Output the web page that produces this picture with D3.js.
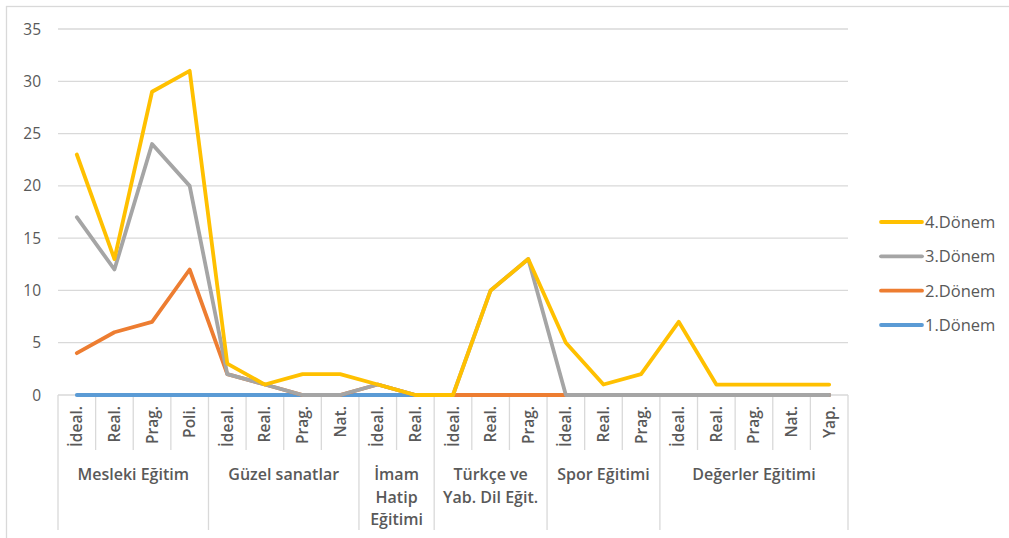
<!DOCTYPE html>
<html>
<head>
    <meta charset="utf-8">
    <title>Dönem line chart</title>
    <script src="https://d3js.org/d3.v7.min.js"></script>
    <style>
        body { margin: 0; background: #fff; }
        text { font-family: "Open Sans", Lato, sans-serif; fill: #595959; }
        .grid line { stroke: #d9d9d9; stroke-width: 1.3px; }
        .sub { font-size: 15.5px; font-weight: 600; }
        .group { font-size: 16px; font-weight: 600; }
        .ytick { font-size: 15.5px; }
        .legend text { font-size: 16.5px; }
    </style>
</head>
<body>
<div id="svg_container"></div>
<script>
    const width = 1009;
    const height = 538;

    // categories: group + sub label
    const groups = ["Mesleki Eğitim", "Güzel sanatlar", "İmam Hatip Eğitimi", "Türkçe ve Yab. Dil Eğit.", "Spor Eğitimi", "Değerler Eğitimi"];
    const groupLines = [["Mesleki Eğitim"], ["Güzel sanatlar"], ["İmam", "Hatip", "Eğitimi"], ["Türkçe ve", "Yab. Dil Eğit."], ["Spor Eğitimi"], ["Değerler Eğitimi"]];
    const subLabels = [
        ["İdeal.", "Real.", "Prag.", "Poli."],
        ["İdeal.", "Real.", "Prag.", "Nat."],
        ["İdeal.", "Real."],
        ["İdeal.", "Real.", "Prag."],
        ["İdeal.", "Real.", "Prag."],
        ["İdeal.", "Real.", "Prag.", "Nat.", "Yap."]
    ];

    const seriesNames = ["1.Dönem", "2.Dönem", "3.Dönem", "4.Dönem"];
    const seriesColors = ["#5b9bd5", "#ed7d31", "#a5a5a5", "#ffc000"];

    const donem1 = [0,0,0,0, 0,0,0,0, 0,0, 0,0,0, 0,0,0, 0,0,0,0,0];
    const donem2 = [4,6,7,12, 2,1,0,0, 1,0, 0,0,0, 0,0,0, 0,0,0,0,0];
    const donem3 = [17,12,24,20, 2,1,0,0, 1,0, 0,10,13, 0,0,0, 0,0,0,0,0];
    const donem4 = [23,13,29,31, 3,1,2,2, 1,0, 0,10,13, 5,1,2, 7,1,1,1,1];
    const seriesValues = [donem1, donem2, donem3, donem4];

    const yTicks = [0, 5, 10, 15, 20, 25, 30, 35];

    // flat category list
    const cats = [];
    subLabels.forEach((subs, gi) => subs.forEach((s, si) => cats.push({ id: gi + "_" + si, group: gi, label: s })));

    const plotLeft = 58, plotRight = 848, plotTop = 29, plotBottom = 395;

    const svg = d3.select("#svg_container")
        .append("svg")
        .attr("width", width)
        .attr("height", height);

    // chart border
    svg.append("rect")
        .attr("x", 6.5).attr("y", 6.5)
        .attr("width", width + 20).attr("height", height + 20)
        .attr("fill", "#fff")
        .attr("stroke", "#d9d9d9")
        .attr("stroke-width", 1.3);

    const x = d3.scaleBand()
        .domain(cats.map(d => d.id))
        .range([plotLeft, plotRight]);

    const y = d3.scaleLinear()
        .domain([0, 35])
        .range([plotBottom, plotTop]);

    // gridlines
    svg.append("g").attr("class", "grid")
        .selectAll("line")
        .data(yTicks.filter(t => t > 0))
        .enter().append("line")
        .attr("x1", plotLeft).attr("x2", plotRight)
        .attr("y1", d => y(d)).attr("y2", d => y(d));

    // y tick labels
    svg.append("g")
        .selectAll("text")
        .data(yTicks)
        .enter().append("text")
        .attr("class", "ytick")
        .attr("x", 41)
        .attr("y", d => y(d) + 5.5)
        .attr("text-anchor", "end")
        .text(d => d);

    // category axis: baseline, ticks, group separators
    const axisG = svg.append("g");
    axisG.append("line")
        .attr("x1", plotLeft).attr("x2", plotRight)
        .attr("y1", plotBottom).attr("y2", plotBottom)
        .attr("stroke", "#d9d9d9").attr("stroke-width", 1.3);

    const subBottom = 450, groupBottom = 530;
    // boundaries between categories
    const bounds = [];
    let idx = 0;
    subLabels.forEach((subs, gi) => {
        subs.forEach((s, si) => {
            bounds.push({ x: x(cats[idx].id), isGroup: si === 0 });
            idx++;
        });
    });
    bounds.push({ x: plotRight, isGroup: true });

    axisG.selectAll("line.tick")
        .data(bounds)
        .enter().append("line")
        .attr("class", "tick")
        .attr("x1", d => d.x).attr("x2", d => d.x)
        .attr("y1", plotBottom)
        .attr("y2", d => d.isGroup ? groupBottom : subBottom)
        .attr("stroke", "#d9d9d9").attr("stroke-width", 1.3);

    // sub labels, rotated
    axisG.selectAll("text.sub")
        .data(cats)
        .enter().append("text")
        .attr("class", "sub")
        .attr("transform", d => "translate(" + (x(d.id) + x.bandwidth() / 2 + 5.5) + "," + 406 + ") rotate(-90)")
        .attr("text-anchor", "end")
        .text(d => d.label);

    // group labels
    const groupCenters = groups.map((g, gi) => {
        const members = cats.filter(c => c.group === gi);
        const x0 = x(members[0].id);
        const x1 = x(members[members.length - 1].id) + x.bandwidth();
        return (x0 + x1) / 2;
    });

    groupLines.forEach((lines, gi) => {
        const t = axisG.append("text")
            .attr("class", "group")
            .attr("text-anchor", "middle")
            .attr("x", groupCenters[gi])
            .attr("y", 480);
        lines.forEach((ln, li) => {
            t.append("tspan")
                .attr("x", groupCenters[gi])
                .attr("dy", li === 0 ? 0 : 22.5)
                .text(ln);
        });
    });

    // lines
    const line = d3.line()
        .x((d, i) => x(cats[i].id) + x.bandwidth() / 2)
        .y(d => y(d));

    svg.append("g")
        .selectAll("path")
        .data(seriesValues)
        .enter().append("path")
        .attr("d", d => line(d))
        .attr("fill", "none")
        .attr("stroke", (d, i) => seriesColors[i])
        .attr("stroke-width", 3.8)
        .attr("stroke-linejoin", "round")
        .attr("stroke-linecap", "round");

    // legend (reverse order)
    const legendY = d3.scalePoint()
        .domain(seriesNames.slice().reverse())
        .range([222, 325]);

    const legend = svg.append("g").attr("class", "legend")
        .selectAll("g")
        .data(seriesNames)
        .enter().append("g")
        .attr("transform", d => "translate(0," + legendY(d) + ")");

    legend.append("line")
        .attr("x1", 881).attr("x2", 922)
        .attr("y1", 0).attr("y2", 0)
        .attr("stroke", (d, i) => seriesColors[i])
        .attr("stroke-width", 3.8)
        .attr("stroke-linecap", "round");

    legend.append("text")
        .attr("x", 925)
        .attr("y", 6)
        .text(d => d);
</script>
</body>
</html>
